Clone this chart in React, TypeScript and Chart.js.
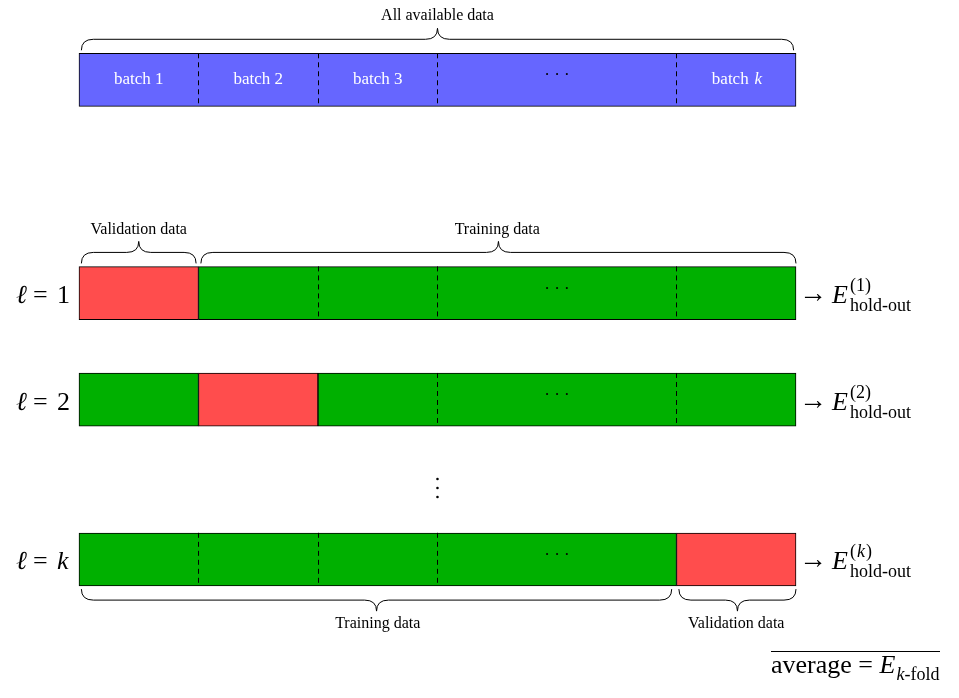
import React, { useEffect, useRef } from "react";
import { Chart, registerables } from "chart.js";

Chart.register(...registerables);

// rows (y in row units), bars span x in batch units (0..6, "..." block is 2 wide)
const rowAll = 1.5;
const foldRows = [5.5, 7.5, 10.5];
const foldNames = ["1", "2", "k"];
const batchEdges = [0, 1, 2, 3, 5, 6];
const batchLabels = ["batch 1", "batch 2", "batch 3", "\u00b7 \u00b7 \u00b7", "batch k"];
const validation: [number, number][] = [[0, 1], [1, 2], [5, 6]];
const training: [number, number][][] = [[[1, 6]], [[0, 1], [2, 6]], [[0, 5]]];
const dashedInside: number[][] = [[2, 3, 5], [3, 5], [1, 2, 3]];

const BLUE = "#6666ff";
const RED = "#ff4d4d";
const GREEN = "#00b000";
const SERIF = "'Liberation Serif', 'DejaVu Serif', serif";

function brace(ctx: CanvasRenderingContext2D, x1: number, x2: number, y: number, h: number) {
  const mid = (x1 + x2) / 2;
  const r = 12;
  const m = y + h / 2;
  ctx.beginPath();
  ctx.moveTo(x1, y);
  ctx.quadraticCurveTo(x1, m, x1 + r, m);
  ctx.lineTo(mid - r, m);
  ctx.quadraticCurveTo(mid, m, mid, y + h);
  ctx.quadraticCurveTo(mid, m, mid + r, m);
  ctx.lineTo(x2 - r, m);
  ctx.quadraticCurveTo(x2, m, x2, y);
  ctx.stroke();
}

const overlay = {
  id: "overlay",
  afterDatasetsDraw(chart: any) {
    const ctx: CanvasRenderingContext2D = chart.ctx;
    const xs = chart.scales.x;
    const ys = chart.scales.y;
    const px = (v: number) => xs.getPixelForValue(v);
    const py = (v: number) => ys.getPixelForValue(v);
    const half = (py(1) - py(0)) / 2;
    ctx.save();
    ctx.strokeStyle = "#000";
    ctx.lineWidth = 1;
    // dashed dividers
    ctx.setLineDash([5, 4]);
    const dashRows: [number, number[]][] = [[rowAll, [1, 2, 3, 5]]];
    foldRows.forEach((r, i) => dashRows.push([r, dashedInside[i]]));
    dashRows.forEach(([r, xsList]) => {
      xsList.forEach((v) => {
        ctx.beginPath();
        ctx.moveTo(Math.round(px(v)) + 0.5, py(r) - half);
        ctx.lineTo(Math.round(px(v)) + 0.5, py(r) + half);
        ctx.stroke();
      });
    });
    ctx.setLineDash([]);
    // batch labels
    ctx.textAlign = "center";
    ctx.textBaseline = "middle";
    batchLabels.forEach((t, i) => {
      const cx = px((batchEdges[i] + batchEdges[i + 1]) / 2);
      ctx.fillStyle = i === 3 ? "#000" : "#fff";
      if (t === "batch k") {
        ctx.font = `17px ${SERIF}`;
        ctx.fillText("batch", cx - 6, py(rowAll));
        ctx.font = `italic 17px ${SERIF}`;
        ctx.fillText("k", cx + 22, py(rowAll));
      } else {
        ctx.font = `17px ${SERIF}`;
        ctx.fillText(t, cx, py(rowAll) - (i === 3 ? 4 : 0));
      }
    });
    ctx.fillStyle = "#000";
    ctx.font = `17px ${SERIF}`;
    foldRows.forEach((r) => ctx.fillText("\u00b7 \u00b7 \u00b7", px(4), py(r) - 4));
    // braces
    ctx.font = `16px ${SERIF}`;
    const top = py(rowAll) - half;
    brace(ctx, px(0.02), px(5.98), top - 3, -22);
    ctx.fillText("All available data", px(3), top - 37);
    const t1 = py(foldRows[0]) - half;
    brace(ctx, px(0.02), px(0.98), t1 - 3, -22);
    ctx.fillText("Validation data", px(0.5), t1 - 37);
    brace(ctx, px(1.02), px(6), t1 - 3, -22);
    ctx.fillText("Training data", px(3.5), t1 - 37);
    const b3 = py(foldRows[2]) + half;
    brace(ctx, px(0.02), px(4.96), b3 + 3, 22);
    ctx.fillText("Training data", px(2.5), b3 + 38);
    brace(ctx, px(5.02), px(6), b3 + 3, 22);
    ctx.fillText("Validation data", px(5.5), b3 + 38);
    // vertical dots
    [479, 488, 497].forEach((y) => {
      ctx.beginPath();
      ctx.arc(px(3), y, 1.3, 0, Math.PI * 2);
      ctx.fill();
    });
    // row labels and results
    ctx.textBaseline = "alphabetic";
    foldRows.forEach((r, i) => {
      const y = py(r) + 10;
      ctx.textAlign = "left";
      ctx.font = `italic 26px ${SERIF}`;
      ctx.fillText("\u2113", 16, y);
      ctx.font = `26px ${SERIF}`;
      ctx.fillText("=", 33, y);
      if (foldNames[i] === "k") ctx.font = `italic 26px ${SERIF}`;
      ctx.fillText(foldNames[i], 57, y);
      ctx.font = `28px ${SERIF}`;
      ctx.fillText("\u2192", px(6) + 3, y - 1);
      ctx.font = `italic 26px ${SERIF}`;
      ctx.fillText("E", px(6) + 36, y);
      const sx = px(6) + 54;
      ctx.font = `18px ${SERIF}`;
      if (foldNames[i] === "k") {
        ctx.fillText("(", sx, y - 12);
        ctx.font = `italic 18px ${SERIF}`;
        ctx.fillText("k", sx + 7, y - 12);
        ctx.font = `18px ${SERIF}`;
        ctx.fillText(")", sx + 16, y - 12);
      } else {
        ctx.fillText(`(${foldNames[i]})`, sx, y - 12);
      }
      ctx.fillText("hold-out", px(6) + 54, y + 8);
    });
    // average
    ctx.textAlign = "left";
    ctx.font = `26px ${SERIF}`;
    ctx.fillText("average = ", 771, 673);
    const w = ctx.measureText("average = ").width;
    ctx.font = `italic 26px ${SERIF}`;
    ctx.fillText("E", 771 + w, 673);
    ctx.font = `italic 18px ${SERIF}`;
    ctx.fillText("k", 771 + w + 17, 680);
    ctx.font = `18px ${SERIF}`;
    ctx.fillText("-fold", 771 + w + 25, 680);
    ctx.beginPath();
    ctx.moveTo(771, 651.5);
    ctx.lineTo(940, 651.5);
    ctx.stroke();
    ctx.restore();
  },
};

export default function App() {
  const ref = useRef<HTMLCanvasElement>(null);
  useEffect(() => {
    if (!ref.current) return;
    const bar = (x: [number, number], y: number) => ({ x, y });
    const chart = new Chart(ref.current, {
      type: "bar",
      data: {
        datasets: [
          {
            data: [bar([batchEdges[0], batchEdges[batchEdges.length - 1]], rowAll)],
            backgroundColor: BLUE,
          },
          {
            data: training.flatMap((segs, i) => segs.map((s) => bar(s, foldRows[i]))),
            backgroundColor: GREEN,
          },
          {
            data: validation.map((s, i) => bar(s, foldRows[i])),
            backgroundColor: RED,
          },
        ] as any,
      },
      options: {
        indexAxis: "y",
        animation: false,
        responsive: true,
        maintainAspectRatio: false,
        layout: { padding: 0 },
        datasets: { bar: { grouped: false, barThickness: 53, borderColor: "#000", borderWidth: 1, borderSkipped: false } as any },
        plugins: { legend: { display: false }, tooltip: { enabled: false } },
        scales: {
          x: { type: "linear", min: -0.661, max: 7.364, display: false, offset: false },
          y: { type: "linear", min: 0, max: 13.1, reverse: true, display: false, offset: false },
        },
      },
      plugins: [overlay],
    });
    return () => chart.destroy();
  }, []);
  return (
    <div style={{ position: "absolute", left: 0, top: 0, width: 959, height: 698, background: "#fff" }}>
      <canvas ref={ref} />
    </div>
  );
}
